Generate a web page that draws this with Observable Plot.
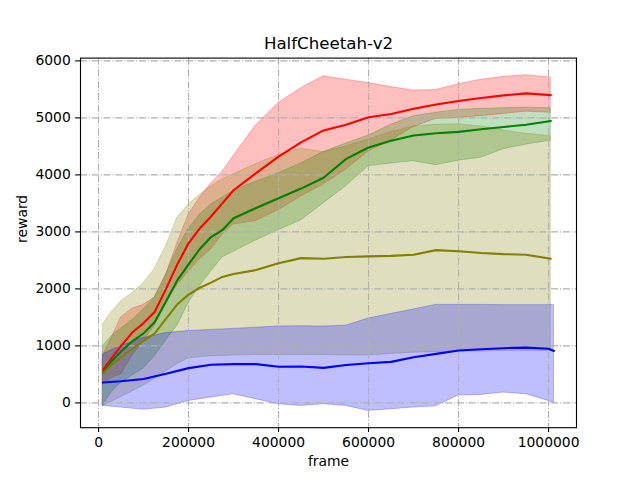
<!DOCTYPE html>
<html><head><meta charset="utf-8">
<script src="https://cdn.jsdelivr.net/npm/d3@7"></script>
<script src="https://cdn.jsdelivr.net/npm/@observablehq/plot@0.6"></script>
<style>body{margin:0;background:#fff} svg{display:block}</style>
</head><body><div id="chart"></div>
<script>
// ---- data ----
const frames = [10000, 30000, 50000, 75000, 100000, 125000, 150000, 175000, 200000, 225000, 250000, 275000, 300000,
  350000, 400000, 450000, 500000, 550000, 600000, 650000, 700000, 750000, 800000, 850000, 900000, 950000, 1005000];
const blueFrames = [10000, 50000, 100000, 150000, 200000, 250000, 300000, 350000, 400000, 450000, 500000,
  550000, 600000, 650000, 700000, 750000, 800000, 850000, 900000, 950000, 1000000, 1012000];

const redMean = [580, 795, 1000, 1234, 1400, 1600, 2000, 2430, 2800, 3060, 3270, 3500, 3730,
  4030, 4320, 4570, 4780, 4880, 5010, 5070, 5160, 5235, 5295, 5350, 5395, 5430, 5400];
const redHigh = [830, 1150, 1500, 1650, 1720, 1850, 2250, 2800, 3300, 3600, 3850, 4050, 4330,
  4870, 5260, 5520, 5730, 5670, 5610, 5540, 5480, 5490, 5590, 5670, 5720, 5750, 5710];
const redLow  = [330, 440, 500, 818, 1080, 1350, 1750, 2060, 2300, 2520, 2690, 2950, 3130,
  3190, 3380, 3620, 3830, 4090, 4410, 4600, 4840, 4980, 5000, 5030, 5070, 5110, 5090];

const greenMean = [520, 740, 900, 1080, 1220, 1420, 1780, 2150, 2430, 2700, 2910, 3030, 3240,
  3420, 3590, 3760, 3950, 4280, 4480, 4600, 4690, 4730, 4755, 4800, 4840, 4880, 4947];
const greenHigh = [1000, 1180, 1300, 1450, 1640, 1850, 2250, 2700, 3050, 3300, 3480, 3600, 3720,
  3880, 4030, 4200, 4400, 4550, 4690, 4880, 5030, 5090, 5140, 5160, 5170, 5180, 5170];
const greenLow  = [-50, 200, 350, 480, 600, 820, 1100, 1350, 1750, 2050, 2300, 2550, 2650,
  2850, 3030, 3200, 3500, 3800, 4150, 4200, 4240, 4170, 4250, 4300, 4450, 4530, 4600];

const oliveMean = [510, 680, 800, 950, 1090, 1220, 1480, 1730, 1900, 2020, 2110, 2210, 2260,
  2330, 2450, 2540, 2530, 2560, 2570, 2580, 2600, 2680, 2660, 2630, 2610, 2600, 2530];
const oliveHigh = [1380, 1600, 1780, 1930, 2100, 2350, 2750, 3250, 3480, 3650, 3800, 3920, 4010,
  4190, 4350, 4460, 4400, 4500, 4620, 4750, 4850, 4880, 4890, 4850, 4780, 4720, 4680];
const oliveLow  = [-50, 20, 100, 200, 300, 420, 550, 680, 780, 800, 820, 825, 830,
  840, 840, 840, 840, 830, 830, 860, 880, 890, 900, 900, 910, 910, 910];

const blueMean = [357, 380, 420, 510, 610, 670, 680, 680, 635, 640, 615, 665, 695, 720, 800, 860, 920, 940, 960, 970, 950, 912];
const blueHigh = [854, 1000, 1140, 1225, 1260, 1280, 1298, 1320, 1340, 1345, 1340, 1355, 1480, 1560, 1640, 1719, 1719, 1719, 1715, 1715, 1715, 1719];
const blueLow  = [-53, -82, -120, -82, 35, 93, 152, 64, -23, -53, -23, -53, -140, -111, -82, -60, 130, 140, 181, 152, 35, -5];

const xTicks = [0, 200000, 400000, 600000, 800000, 1000000];
const yTicks = [0, 1000, 2000, 3000, 4000, 5000, 6000];
const titleText = "HalfCheetah-v2";
const xLabel = "frame";
const yLabel = "reward";

// ---- build ----
function rows(fr, m, lo, hi) { return fr.map((f, i) => ({frame: f, mean: m[i], lo: lo[i], hi: hi[i]})); }
const series = [
  {color: "#ff0000", data: rows(frames, redMean, redLow, redHigh)},
  {color: "#008000", data: rows(frames, greenMean, greenLow, greenHigh)},
  {color: "#808000", data: rows(frames, oliveMean, oliveLow, oliveHigh)},
  {color: "#0000ff", data: rows(blueFrames, blueMean, blueLow, blueHigh)}
];

const pt = 100 / 72;
const dash = [6.4, 1.6, 1.0, 1.6].map(d => d * 0.8 * pt).join(",");

const chart = Plot.plot({
  width: 640, height: 480,
  marginLeft: 80, marginRight: 64, marginTop: 57.6, marginBottom: 52.8,
  style: {fontFamily: "DejaVu Sans", fontSize: (10 * pt) + "px", background: "#fff", color: "#000"},
  x: {domain: [-40100, 1062100]},
  y: {domain: [-435, 6049]},
  marks: [
    ...series.map(s => Plot.areaY(s.data, {x: "frame", y1: "lo", y2: "hi", fill: s.color, fillOpacity: 0.25,
      stroke: s.color, strokeOpacity: 0.25, strokeWidth: 1})),
    Plot.gridX(xTicks, {stroke: "#b0b0b0", strokeOpacity: 1, strokeWidth: 0.8 * pt, strokeDasharray: dash}),
    Plot.gridY(yTicks, {stroke: "#b0b0b0", strokeOpacity: 1, strokeWidth: 0.8 * pt, strokeDasharray: dash}),
    ...series.map(s => Plot.lineY(s.data, {x: "frame", y: "mean", stroke: s.color, strokeWidth: 1.5 * pt})),
    Plot.frame({stroke: "#000", strokeWidth: 0.8 * pt}),
    Plot.axisX(xTicks, {tickSize: 3.5 * pt, tickPadding: 3.5 * pt, tickFormat: d => String(d), label: null,
      strokeWidth: 0.8 * pt, fontSize: 10 * pt}),
    Plot.axisY(yTicks, {tickSize: 3.5 * pt, tickPadding: 3.5 * pt, tickFormat: d => String(d), label: null,
      strokeWidth: 0.8 * pt, fontSize: 10 * pt}),
    Plot.text([titleText], {frameAnchor: "top", dy: -14.5, lineAnchor: "middle", fontSize: 12 * pt, fill: "#000"}),
    Plot.text([xLabel], {frameAnchor: "bottom", dy: 34, lineAnchor: "middle", fontSize: 10 * pt, fill: "#000"}),
    Plot.text([yLabel], {frameAnchor: "left", dx: -58, rotate: -90, lineAnchor: "middle", fontSize: 10 * pt, fill: "#000"})
  ]
});
document.getElementById("chart").appendChild(chart);
</script>
</body></html>
